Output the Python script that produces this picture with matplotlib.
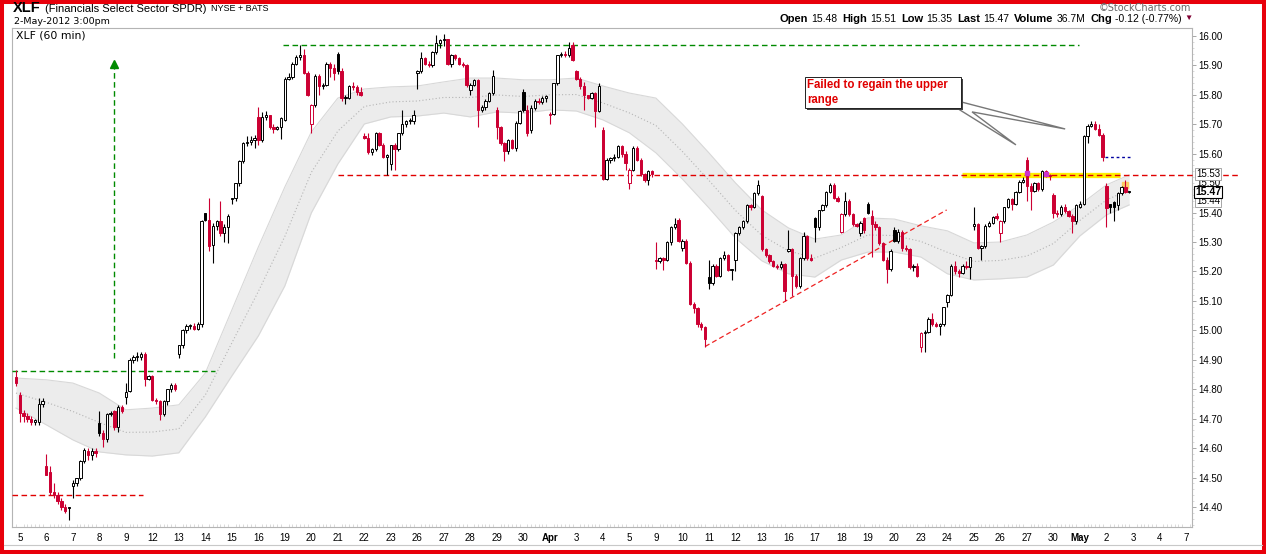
import numpy as np
import matplotlib.pyplot as plt
from matplotlib.patches import Rectangle, Polygon
from matplotlib.lines import Line2D
from matplotlib.transforms import blended_transform_factory

plt.rcParams['font.family'] = ['Liberation Sans', 'DejaVu Sans']

W, H = 1266, 554

# one label per session, placed on the first bar of the day
day_labels = ['5', '6', '7', '8', '9', '12', '13', '14', '15', '16', '19', '20', '21', '22', '23',
              '26', '27', '28', '29', '30', 'Apr', '3', '4', '5', '9', '10', '11', '12', '13',
              '16', '17', '18', '19', '20', '23', '24', '25', '26', '27', '30', 'May', '2', '3', '4', '7']

# 60 min bars: first bar is the last hour of 2-Mar, then 7 bars per session (5-Mar .. 2-May)
opens = [14.84,
         14.78, 14.72, 14.71, 14.70, 14.69, 14.69, 14.75,
         14.54, 14.52, 14.45, 14.44, 14.42, 14.40, 14.395,
         14.47, 14.48, 14.50, 14.555, 14.59, 14.575, 14.59,
         14.685, 14.65, 14.63, 14.715, 14.725, 14.67, 14.74,
         14.775, 14.795, 14.90, 14.91, 14.91, 14.92, 14.835,
         14.845, 14.765, 14.76, 14.715, 14.76, 14.80, 14.815,
         14.92, 14.95, 15.00, 15.015, 15.015, 15.005, 15.02,
         15.40, 15.375, 15.29, 15.355, 15.37, 15.33, 15.35,
         15.445, 15.45, 15.50, 15.575, 15.635, 15.64, 15.645,
         15.725, 15.645, 15.725, 15.73, 15.69, 15.685, 15.69,
         15.715, 15.855, 15.86, 15.905, 15.93, 15.935, 15.875,
         15.70, 15.765, 15.865, 15.83, 15.835, 15.905, 15.89,
         15.94, 15.88, 15.79, 15.79, 15.83, 15.825, 15.81,
         15.66, 15.655, 15.605, 15.615, 15.67, 15.63, 15.59,
         15.565, 15.63, 15.615, 15.67, 15.70, 15.71, 15.71,
         15.875, 15.88, 15.925, 15.905, 15.90, 15.945, 15.975,
         15.985, 15.99, 15.905, 15.935, 15.925, 15.905, 15.90,
         15.815, 15.835, 15.85, 15.75, 15.76, 15.78, 15.805,
         15.75, 15.69, 15.635, 15.61, 15.645, 15.62, 15.705,
         15.81, 15.75, 15.68, 15.755, 15.78, 15.775, 15.79,
         15.73, 15.735, 15.84, 15.935, 15.94, 15.935, 15.97,
         15.88, 15.855, 15.83, 15.80, 15.79, 15.805, 15.745,
         15.68, 15.515, 15.58, 15.585, 15.59, 15.625, 15.60,
         15.50, 15.545, 15.62, 15.58, 15.53, 15.51, 15.54,
         15.24, 15.235, 15.245, 15.24, 15.30, 15.35, 15.375,
         15.28, 15.305, 15.23, 15.09, 15.075, 15.02, 15.01,
         15.18, 15.16, 15.22, 15.185, 15.245, 15.255, 15.205,
         15.24, 15.33, 15.35, 15.37, 15.425, 15.42, 15.465,
         15.455, 15.275, 15.255, 15.235, 15.22, 15.215, 15.225,
         15.27, 15.278, 15.185, 15.15, 15.245, 15.32, 15.245,
         15.38, 15.35, 15.41, 15.425, 15.47, 15.495, 15.45,
         15.335, 15.395, 15.44, 15.395, 15.36, 15.33, 15.38,
         15.43, 15.39, 15.36, 15.35, 15.295, 15.24, 15.21,
         15.34, 15.305, 15.335, 15.28, 15.275, 15.215, 15.22,
         14.945, 14.99, 14.995, 15.04, 15.02, 15.015, 15.02,
         15.095, 15.12, 15.22, 15.20, 15.195, 15.22, 15.215,
         15.355, 15.36, 15.28, 15.285, 15.355, 15.365, 15.39,
         15.33, 15.37, 15.42, 15.445, 15.43, 15.47, 15.505,
         15.58, 15.49, 15.475, 15.50, 15.48, 15.54, 15.525,
         15.46, 15.40, 15.395, 15.42, 15.405, 15.39, 15.37,
         15.42, 15.43, 15.66, 15.695, 15.70, 15.685, 15.665,
         15.49, 15.43, 15.435, 15.425, 15.465, 15.488, 15.47]

highs = [14.865,
         14.79, 14.73, 14.72, 14.71, 14.70, 14.77, 14.77,
         14.58, 14.54, 14.48, 14.45, 14.43, 14.41, 14.40,
         14.49, 14.50, 14.56, 14.60, 14.60, 14.60, 14.60,
         14.725, 14.66, 14.72, 14.725, 14.73, 14.745, 14.745,
         14.82, 14.905, 14.915, 14.925, 14.925, 14.925, 14.85,
         14.85, 14.77, 14.765, 14.765, 14.80, 14.82, 14.82,
         14.95, 15.005, 15.02, 15.02, 15.025, 15.03, 15.375,
         15.40, 15.45, 15.365, 15.375, 15.44, 15.36, 15.395,
         15.45, 15.50, 15.58, 15.64, 15.66, 15.66, 15.665,
         15.757, 15.74, 15.745, 15.73, 15.70, 15.695, 15.725,
         15.86, 15.875, 15.91, 15.935, 15.97, 15.955, 15.88,
         15.77, 15.87, 15.87, 15.84, 15.91, 15.91, 15.905,
         15.947, 15.89, 15.80, 15.835, 15.845, 15.835, 15.825,
         15.67, 15.67, 15.62, 15.675, 15.675, 15.635, 15.60,
         15.63, 15.635, 15.67, 15.75, 15.715, 15.72, 15.75,
         15.885, 15.945, 15.93, 15.915, 15.95, 16.003, 15.99,
         16.006, 15.99, 15.94, 15.94, 15.93, 15.91, 15.905,
         15.84, 15.855, 15.855, 15.765, 15.785, 15.81, 15.885,
         15.76, 15.695, 15.64, 15.65, 15.65, 15.71, 15.75,
         15.82, 15.765, 15.765, 15.785, 15.79, 15.795, 15.80,
         15.74, 15.84, 15.935, 15.945, 15.95, 15.98, 15.98,
         15.885, 15.86, 15.845, 15.80, 15.81, 15.81, 15.84,
         15.69, 15.585, 15.59, 15.60, 15.63, 15.63, 15.61,
         15.55, 15.625, 15.625, 15.585, 15.535, 15.545, 15.545,
         15.30, 15.25, 15.25, 15.305, 15.355, 15.38, 15.38,
         15.31, 15.31, 15.235, 15.095, 15.08, 15.03, 15.015,
         15.24, 15.225, 15.225, 15.25, 15.268, 15.26, 15.21,
         15.335, 15.355, 15.375, 15.43, 15.43, 15.47, 15.511,
         15.46, 15.28, 15.26, 15.24, 15.225, 15.235, 15.23,
         15.34, 15.28, 15.19, 15.25, 15.335, 15.325, 15.26,
         15.385, 15.41, 15.43, 15.475, 15.50, 15.50, 15.455,
         15.40, 15.47, 15.445, 15.40, 15.365, 15.37, 15.385,
         15.435, 15.41, 15.37, 15.355, 15.30, 15.25, 15.275,
         15.35, 15.345, 15.34, 15.29, 15.28, 15.225, 15.23,
         14.995, 15.00, 15.045, 15.06, 15.03, 15.025, 15.08,
         15.125, 15.225, 15.235, 15.21, 15.225, 15.235, 15.25,
         15.42, 15.365, 15.29, 15.36, 15.37, 15.39, 15.40,
         15.375, 15.42, 15.45, 15.45, 15.475, 15.51, 15.52,
         15.59, 15.50, 15.505, 15.505, 15.545, 15.545, 15.53,
         15.465, 15.41, 15.425, 15.43, 15.41, 15.395, 15.43,
         15.44, 15.665, 15.70, 15.71, 15.71, 15.70, 15.67,
         15.50, 15.43, 15.44, 15.47, 15.49, 15.51, 15.475]

lows = [14.81,
        14.69, 14.69, 14.69, 14.68, 14.68, 14.68, 14.74,
        14.51, 14.44, 14.43, 14.41, 14.39, 14.38, 14.355,
        14.43, 14.47, 14.49, 14.55, 14.56, 14.56, 14.57,
        14.64, 14.605, 14.62, 14.71, 14.66, 14.655, 14.72,
        14.75, 14.79, 14.89, 14.895, 14.90, 14.81, 14.83,
        14.76, 14.75, 14.695, 14.71, 14.745, 14.79, 14.795,
        14.905, 14.94, 14.99, 15.005, 15.00, 15.00, 15.01,
        15.37, 15.27, 15.23, 15.34, 15.32, 15.30, 15.295,
        15.43, 15.44, 15.49, 15.57, 15.625, 15.63, 15.62,
        15.63, 15.64, 15.715, 15.685, 15.67, 15.68, 15.65,
        15.71, 15.85, 15.855, 15.90, 15.92, 15.87, 15.795,
        15.67, 15.76, 15.80, 15.82, 15.83, 15.86, 15.85,
        15.87, 15.78, 15.77, 15.785, 15.815, 15.80, 15.795,
        15.65, 15.60, 15.595, 15.61, 15.625, 15.585, 15.528,
        15.545, 15.545, 15.61, 15.665, 15.69, 15.70, 15.70,
        15.82, 15.875, 15.90, 15.895, 15.895, 15.94, 15.96,
        15.965, 15.90, 15.895, 15.92, 15.90, 15.895, 15.825,
        15.80, 15.83, 15.69, 15.74, 15.75, 15.775, 15.80,
        15.65, 15.63, 15.575, 15.60, 15.615, 15.61, 15.70,
        15.74, 15.66, 15.67, 15.75, 15.77, 15.77, 15.775,
        15.70, 15.73, 15.835, 15.93, 15.93, 15.93, 15.915,
        15.85, 15.82, 15.75, 15.785, 15.785, 15.69, 15.74,
        15.51, 15.51, 15.57, 15.575, 15.585, 15.59, 15.545,
        15.48, 15.54, 15.575, 15.525, 15.505, 15.495, 15.52,
        15.21, 15.23, 15.205, 15.235, 15.29, 15.345, 15.30,
        15.27, 15.225, 15.085, 15.06, 15.01, 15.00, 14.945,
        15.14, 15.155, 15.18, 15.18, 15.24, 15.20, 15.17,
        15.20, 15.325, 15.345, 15.365, 15.41, 15.415, 15.46,
        15.27, 15.25, 15.23, 15.215, 15.21, 15.21, 15.10,
        15.265, 15.115, 15.145, 15.145, 15.24, 15.24, 15.235,
        15.30, 15.34, 15.405, 15.42, 15.465, 15.445, 15.435,
        15.33, 15.39, 15.39, 15.355, 15.35, 15.32, 15.33,
        15.395, 15.25, 15.34, 15.29, 15.235, 15.16, 15.20,
        15.30, 15.295, 15.27, 15.27, 15.21, 15.20, 15.18,
        14.925, 14.925, 14.99, 15.015, 15.01, 14.985, 15.015,
        15.08, 15.115, 15.19, 15.18, 15.19, 15.21, 15.175,
        15.34, 15.275, 15.24, 15.28, 15.35, 15.36, 15.375,
        15.30, 15.365, 15.415, 15.41, 15.425, 15.465, 15.50,
        15.44, 15.41, 15.47, 15.475, 15.475, 15.52, 15.51,
        15.38, 15.385, 15.39, 15.40, 15.385, 15.33, 15.36,
        15.415, 15.425, 15.635, 15.69, 15.68, 15.66, 15.575,
        15.35, 15.40, 15.37, 15.41, 15.46, 15.465, 15.465]

closes = [14.82,
          14.72, 14.71, 14.70, 14.69, 14.69, 14.75, 14.76,
          14.51, 14.45, 14.44, 14.42, 14.40, 14.385, 14.40,
          14.48, 14.50, 14.555, 14.595, 14.575, 14.59, 14.585,
          14.65, 14.63, 14.715, 14.72, 14.67, 14.74, 14.725,
          14.79, 14.90, 14.91, 14.91, 14.92, 14.835, 14.845,
          14.765, 14.76, 14.715, 14.76, 14.80, 14.815, 14.80,
          14.95, 15.00, 15.015, 15.015, 15.005, 15.02, 15.37,
          15.375, 15.285, 15.355, 15.37, 15.33, 15.35, 15.39,
          15.45, 15.50, 15.575, 15.635, 15.64, 15.645, 15.655,
          15.645, 15.725, 15.73, 15.69, 15.685, 15.69, 15.72,
          15.855, 15.86, 15.905, 15.93, 15.935, 15.875, 15.80,
          15.765, 15.865, 15.83, 15.835, 15.905, 15.89, 15.875,
          15.88, 15.79, 15.79, 15.83, 15.825, 15.81, 15.80,
          15.655, 15.605, 15.615, 15.67, 15.63, 15.59, 15.595,
          15.63, 15.615, 15.67, 15.70, 15.71, 15.71, 15.73,
          15.88, 15.925, 15.905, 15.90, 15.945, 15.975, 15.985,
          15.99, 15.905, 15.935, 15.925, 15.905, 15.90, 15.835,
          15.835, 15.85, 15.75, 15.76, 15.78, 15.805, 15.865,
          15.69, 15.635, 15.61, 15.645, 15.62, 15.705, 15.745,
          15.75, 15.67, 15.755, 15.78, 15.775, 15.79, 15.795,
          15.735, 15.84, 15.935, 15.94, 15.935, 15.96, 15.92,
          15.855, 15.83, 15.80, 15.79, 15.805, 15.745, 15.83,
          15.515, 15.58, 15.585, 15.59, 15.625, 15.60, 15.57,
          15.545, 15.62, 15.58, 15.53, 15.51, 15.54, 15.53,
          15.235, 15.245, 15.24, 15.30, 15.35, 15.36, 15.305,
          15.305, 15.23, 15.09, 15.075, 15.02, 15.01, 14.97,
          15.16, 15.22, 15.185, 15.245, 15.255, 15.205, 15.205,
          15.33, 15.35, 15.37, 15.425, 15.42, 15.465, 15.495,
          15.275, 15.255, 15.235, 15.22, 15.215, 15.225, 15.135,
          15.278, 15.185, 15.15, 15.245, 15.32, 15.245, 15.24,
          15.35, 15.41, 15.425, 15.47, 15.495, 15.45, 15.44,
          15.395, 15.44, 15.395, 15.36, 15.355, 15.365, 15.34,
          15.40, 15.36, 15.35, 15.295, 15.24, 15.21, 15.27,
          15.305, 15.335, 15.28, 15.275, 15.215, 15.22, 15.185,
          14.99, 14.995, 15.04, 15.02, 15.015, 15.02, 15.08,
          15.12, 15.22, 15.20, 15.195, 15.22, 15.215, 15.25,
          15.36, 15.28, 15.285, 15.355, 15.365, 15.385, 15.38,
          15.37, 15.42, 15.445, 15.43, 15.47, 15.505, 15.51,
          15.49, 15.475, 15.50, 15.48, 15.54, 15.525, 15.523,
          15.40, 15.395, 15.42, 15.405, 15.39, 15.37, 15.425,
          15.43, 15.66, 15.695, 15.70, 15.685, 15.665, 15.59,
          15.415, 15.42, 15.42, 15.465, 15.488, 15.47, 15.47]

# grey channel around price, read at the start of each session (+ last bar)
band_upper = [14.838, 14.832, 14.821, 14.787, 14.730, 14.736, 14.747, 14.855, 15.069, 15.283,
              15.487, 15.674, 15.789, 15.820, 15.827, 15.830, 15.844, 15.857, 15.857, 15.851,
              15.851, 15.857, 15.830, 15.806, 15.789, 15.701, 15.603, 15.501, 15.409, 15.348,
              15.310, 15.324, 15.382, 15.378, 15.355, 15.338, 15.297, 15.300, 15.324, 15.368,
              15.426, 15.494, 15.528]
band_lower = [14.736, 14.679, 14.628, 14.587, 14.577, 14.573, 14.584, 14.706, 14.845, 14.981,
              15.151, 15.399, 15.565, 15.701, 15.725, 15.728, 15.738, 15.725, 15.742, 15.738,
              15.749, 15.745, 15.715, 15.671, 15.603, 15.514, 15.416, 15.314, 15.236, 15.192,
              15.181, 15.239, 15.266, 15.266, 15.249, 15.192, 15.171, 15.175, 15.181, 15.222,
              15.321, 15.392, 15.426]

# hand drawn levels
range_top = 15.97
range_base = 14.862
march_low = 14.441
upper_range = 15.528
trend_x = [182, 245.8]
trend_y = [14.945, 15.409]
note_text = 'Failed to regain the upper\nrange'

fig = plt.figure(figsize=(W / 100, H / 100), dpi=100)
ax = fig.add_axes([12 / W, 27 / H, 1180 / W, 499 / H])

o = np.array(opens)
h = np.array(highs)
l = np.array(lows)
c = np.array(closes)
k = np.arange(len(c))
prev = np.r_[o[0], c[:-1]]
red = '#cc0033'
col = np.where(c >= prev - 1e-9, 'black', red)
face = np.where(c < o, col, 'white')

# channel
band_k = [0] + [1 + 7 * d for d in range(1, 42)] + [len(c) - 1]
ax.fill_between(band_k, band_lower, band_upper, color='#ececec', lw=0, zorder=1)
ax.plot(band_k, band_upper, color='#d8d8d8', lw=0.8, zorder=1)
ax.plot(band_k, band_lower, color='#d8d8d8', lw=0.8, zorder=1)
mid = (np.array(band_upper) + np.array(band_lower)) / 2
ax.plot(band_k, mid, color='#b5b5b5', lw=0.8, ls=(0, (1, 2)), zorder=2)

# yellow highlight under the candles
ax.hlines(upper_range, 249.9, 291.6, colors='#fff000', lw=3.8, zorder=2)

# candles
ax.vlines(k, np.minimum(l, np.minimum(o, c)), np.maximum(h, np.maximum(o, c)),
          colors=list(col), lw=0.8, zorder=4)
ax.bar(k, np.maximum(np.abs(c - o), 0.004), bottom=np.minimum(o, c), width=0.62,
       color=list(face), edgecolor=list(col), linewidth=0.7, zorder=5)

# small marks on 27-Apr and the last bar
ax.plot([267, 272], [15.535, 15.532], 's', ms=2.5, color='#cc33cc', zorder=6)
ax.plot(293, 15.495, 's', ms=4, color='#ffc64d', alpha=0.8, zorder=3)

# drawn lines
dash = (0, (4, 2.5))
green = '#008a00'
ax.hlines(range_top, 70.5, 280.8, colors=green, lw=1.0, linestyles=dash, zorder=3)
ax.hlines(range_base, -1.06, 52.6, colors=green, lw=1.0, linestyles=dash, zorder=3)
ax.vlines(26, 14.906, 15.89, colors=green, lw=1.0, linestyles=dash, zorder=3)
ax.plot(26, 15.905, '^', ms=6, color=green, zorder=3)
ax.hlines(march_low, -1.06, 33.5, colors='#e00000', lw=1.0, linestyles=dash, zorder=3)
ax.plot([85, 322.8], [upper_range, upper_range], color='#e00000', lw=1.0, ls=dash,
        zorder=3, clip_on=False)
ax.plot(trend_x, trend_y, color='#ee2222', lw=0.9, ls=dash, zorder=3)
ax.hlines(15.588, 287.6, 294.8, colors='#0000a0', lw=1.0, linestyles=(0, (2, 2)), zorder=3)

# callout
wedge = [(249.6, 15.776), (277.1, 15.684), (252.5, 15.742), (264.1, 15.630), (248.5, 15.755)]
ax.add_patch(Polygon(wedge, closed=False, fc='white', ec='#777777', lw=1.0, zorder=6))
ax.add_patch(Rectangle((208.8, 15.749), 41.2, 0.106, fc='#444444', ec='none', zorder=6.5))
ax.add_patch(Rectangle((208.4, 15.755), 41.2, 0.106, fc='white', ec='#222222', lw=0.7, zorder=7))
ax.text(208.9, 15.807, note_text, color='#e00000', fontweight='bold', fontsize=8.3,
        va='center', ha='left', linespacing=1.35, zorder=8)

# axes
ax.set_xlim(-1.06, 310.6)
ax.set_ylim(14.332, 16.027)
for s in ax.spines.values():
    s.set_color('#b4b4b4')
    s.set_linewidth(0.8)
ax.yaxis.tick_right()
yt = [round(14.4 + 0.1 * i, 2) for i in range(17) if i != 11]
ax.set_yticks(yt)
ax.set_yticklabels(['%.2f' % v for v in yt])
ax.set_yticks(np.arange(14.34, 16.02, 0.02), minor=True)
ax.tick_params(axis='y', which='major', length=3, width=0.6, color='#999999', pad=1.5, labelsize=7)
ax.tick_params(axis='y', which='minor', length=1.5, width=0.5, color='#cccccc')
ax.set_xticks([1 + 7 * d for d in range(len(day_labels))])
ax.set_xticklabels(day_labels)
ax.set_xticks(np.arange(0, 311), minor=True)
ax.tick_params(axis='x', which='major', length=0, pad=4, labelsize=7)
ax.tick_params(axis='x', which='minor', length=2, width=0.5, color='#cccccc', direction='in')
for t in ax.get_xticklabels():
    if t.get_text() in ('Apr', 'May'):
        t.set_fontweight('bold')

# price tags on the right
tr = blended_transform_factory(ax.transAxes, ax.transData)
tag_x = 1 + 4 / 1180
ax.text(tag_x, 15.53, '15.53', transform=tr, fontsize=7, va='center', ha='left', zorder=5,
        clip_on=False, bbox=dict(boxstyle='square,pad=0.12', fc='white', ec='#999999', lw=0.6))
ax.text(tag_x, 15.50, '15.50', transform=tr, fontsize=7, va='center', ha='left', zorder=4,
        clip_on=False)
ax.text(tag_x, 15.44, '15.44', transform=tr, fontsize=7, va='center', ha='left', zorder=5,
        clip_on=False, bbox=dict(boxstyle='square,pad=0.12', fc='white', ec='#999999', lw=0.6))
ax.text(tag_x - 1 / 1180, 15.47, '15.47', transform=tr, fontsize=7.5, fontweight='bold',
        va='center', ha='left', zorder=6, clip_on=False,
        bbox=dict(boxstyle='square,pad=0.12', fc='white', ec='black', lw=0.8))


def text_row(x, y, pieces, right=False):
    # pieces: (text, kwargs, gap in px after it)
    r = fig.canvas.get_renderer()
    arts = [fig.text(0, 1 - y / H, s, va='center', ha='left', **kw) for s, kw, g in pieces]
    widths = [a.get_window_extent(r).width + g for a, (s, kw, g) in zip(arts, pieces)]
    x0 = x - sum(widths) if right else x
    for a, w in zip(arts, widths):
        a.set_x(x0 / W)
        x0 += w


b = dict(fontweight='bold', fontsize=8)
v = dict(fontsize=7.5)
text_row(13, 8.5, [('XLF', dict(fontweight='bold', fontsize=10.5), 4),
                   ('(Financials Select Sector SPDR)', dict(fontsize=8), 5),
                   ('NYSE + BATS', dict(fontsize=6.5), 0)])
fig.text(14 / W, 1 - 22 / H, '2-May-2012 3:00pm', fontsize=6.8, family='DejaVu Sans', va='center')
fig.text(16 / W, 1 - 35 / H, 'XLF (60 min)', fontsize=7.8, family='DejaVu Sans', va='center')
fig.text(1191 / W, 1 - 8 / H, '\u00a9StockCharts.com', fontsize=7, color='#666666',
         family='DejaVu Sans', va='center', ha='right')
text_row(1193, 18.5, [('Open', b, 3), ('15.48', v, 5), ('High', b, 3), ('15.51', v, 5),
                      ('Low', b, 3), ('15.35', v, 5), ('Last', b, 3), ('15.47', v, 5),
                      ('Volume', b, 3), ('36.7M', v, 5), ('Chg', b, 3), ('-0.12 (-0.77%)', v, 3),
                      ('\u25bc', dict(fontsize=6, color='#800033'), 0)], right=True)

# frame around the picture
fig.add_artist(Line2D([4 / W, 1 - 4 / W], [1 - 545 / H] * 2, color='#c8c8c8', lw=0.8))
fig.add_artist(Rectangle((2 / W, 2 / H), (W - 4) / W, (H - 4) / H, transform=fig.transFigure,
                         fill=False, ec='#e8000b', lw=2.9))

fig.savefig('out.png', dpi=100)
